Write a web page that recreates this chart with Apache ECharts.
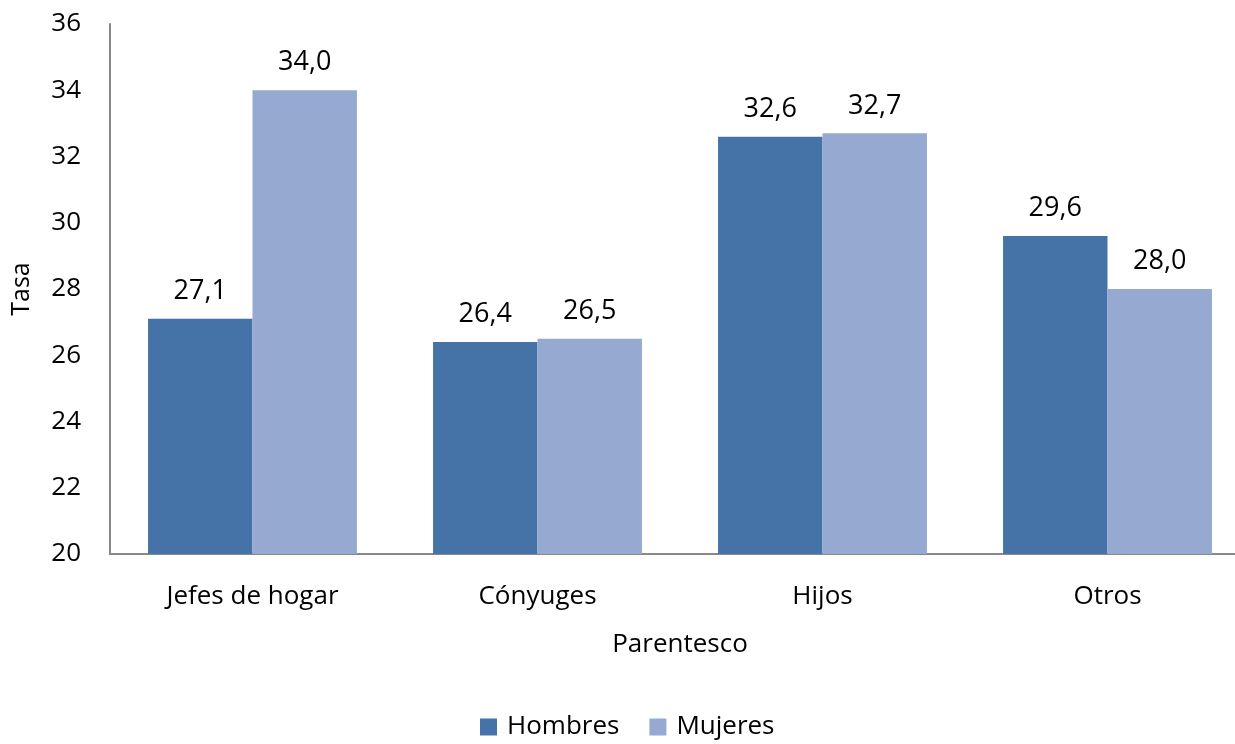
<!DOCTYPE html>
<html>
<head>
<meta charset="utf-8">
<script src="https://cdn.jsdelivr.net/npm/echarts@6/dist/echarts.min.js"></script>
<style>html,body{margin:0;padding:0;background:#fff}#c{width:1235px;height:744px}</style>
</head>
<body>
<div id="c"></div>
<script>
var categories = ['Jefes de hogar', 'Cónyuges', 'Hijos', 'Otros'];
var hombres = [27.1, 26.4, 32.6, 29.6];
var mujeres = [34.0, 26.5, 32.7, 28.0];
var seriesNames = ['Hombres', 'Mujeres'];
var yMin = 20, yMax = 36, yStep = 2;

var FONT = '"Open Sans", Lato, sans-serif';
function fmt(p) { return p.value.toFixed(1).replace('.', ','); }

var chart = echarts.init(document.getElementById('c'));
chart.setOption({
  animation: false,
  textStyle: { fontFamily: FONT, color: '#000' },
  grid: { left: 110, right: -15, top: 24, bottom: 190, containLabel: false, outerBoundsMode: 'none' },
  legend: {
    top: 709, left: 475,
    itemWidth: 17, itemHeight: 17, itemGap: 30,
    icon: 'rect',
    textStyle: { fontSize: 26, color: '#000', fontFamily: FONT, padding: [0, 0, 0, 5] },
    data: seriesNames
  },
  xAxis: {
    type: 'category',
    data: categories,
    name: 'Parentesco',
    nameLocation: 'middle',
    nameGap: 78,
    nameTextStyle: { fontSize: 26, color: '#000', fontFamily: FONT },
    axisLine: { lineStyle: { color: '#898989', width: 2 } },
    axisTick: { show: false },
    axisLabel: { fontSize: 26, color: '#000', margin: 30, fontFamily: FONT }
  },
  yAxis: {
    type: 'value',
    min: yMin, max: yMax, interval: yStep,
    name: 'Tasa',
    nameLocation: 'middle',
    nameGap: 76,
    nameTextStyle: { fontSize: 25, color: '#000', fontFamily: FONT },
    axisLine: { show: true, lineStyle: { color: '#898989', width: 2 } },
    axisTick: { show: false },
    splitLine: { show: false },
    axisLabel: { fontSize: 26, color: '#000', margin: 29, fontFamily: FONT }
  },
  series: [
    {
      name: seriesNames[0], type: 'bar', data: hombres,
      barGap: '0%', barCategoryGap: '26.7%',
      itemStyle: { color: '#4572A7' },
      label: { show: true, position: 'top', distance: 14, fontSize: 27, color: '#000', formatter: fmt, fontFamily: FONT }
    },
    {
      name: seriesNames[1], type: 'bar', data: mujeres,
      barGap: '0%', barCategoryGap: '26.7%',
      itemStyle: { color: '#95A9D1' },
      label: { show: true, position: 'top', distance: 14, fontSize: 27, color: '#000', formatter: fmt, fontFamily: FONT }
    }
  ]
});
</script>
</body>
</html>
